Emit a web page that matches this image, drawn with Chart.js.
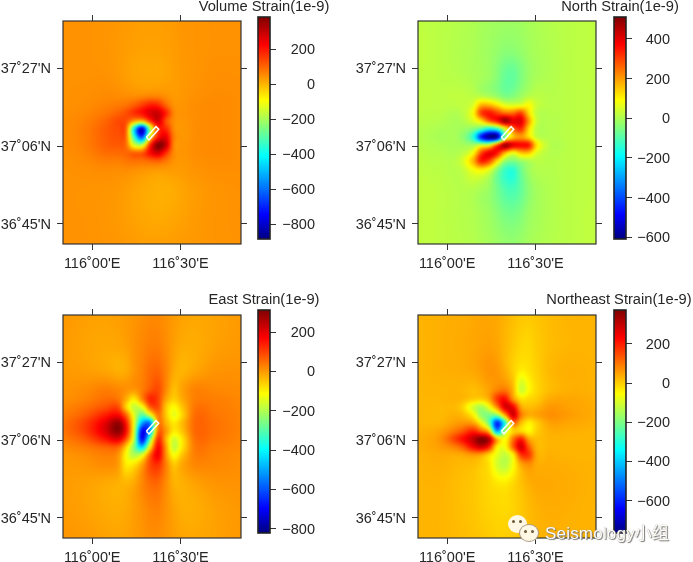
<!DOCTYPE html>
<html><head><meta charset="utf-8">
<style>
html,body{margin:0;padding:0;background:#fff;width:693px;height:562px;overflow:hidden}
canvas{position:absolute}
#wm{position:absolute;z-index:10;left:545px;top:519px;font:17px "Liberation Sans","Noto Sans CJK SC",sans-serif;color:#fffdf5;letter-spacing:.2px;text-shadow:1px 1px 1px #777,0 0 1px #888;white-space:nowrap}
.b{position:absolute;z-index:10;background:#fff8e4;border-radius:50%}
.e{position:absolute;z-index:11;background:#6b5a3a;border-radius:50%;width:3px;height:3px}
</style>
<script src="https://cdn.jsdelivr.net/npm/chart.js@4"></script>
</head><body>
<div class="b" style="left:508px;top:515px;width:19px;height:18px"></div>
<div class="e" style="left:512px;top:520px"></div><div class="e" style="left:519px;top:520px"></div>
<div class="b" style="left:520px;top:525px;width:18px;height:16px;box-shadow:0 0 0 1px #a98"></div>
<div class="e" style="left:524px;top:530px"></div><div class="e" style="left:531px;top:530px"></div>
<div id="wm">Seismology小组</div>
<script>
const lonTicks = [116, 116.5];
const lonLabels = ["116˚00'E", "116˚30'E"];
const latTicks = [37.45, 37.1, 36.75];
const latLabels = ["37˚27'N", "37˚06'N", "36˚45'N"];
const lonRange = [115.835, 116.843];
const latRange = [36.66, 37.663];
const lonNodes = [115.837,115.961,116.074,116.147,116.192,116.237,116.283,116.328,116.373,116.418,116.463,116.508,116.582,116.695,116.841];
const latNodes = [37.663,37.533,37.420,37.330,37.285,37.249,37.213,37.177,37.141,37.105,37.069,37.034,36.989,36.903,36.791,36.660];
const faultLon = [116.307,116.322,116.377,116.362,116.307];
const faultLat = [37.140,37.128,37.176,37.188,37.140];

const volumeStrain = [
[45,45,42,38,35,32,30,30,30,32,35,40,42,45,45],
[45,45,42,36,32,28,25,25,25,28,32,38,42,45,45],
[45,45,45,38,30,24,20,20,20,24,30,36,42,48,48],
[45,48,54,52,50,48,50,55,55,45,35,38,46,52,50],
[45,52,65,75,85,110,150,190,180,100,45,42,50,55,50],
[48,58,80,105,130,170,210,270,290,190,60,45,50,55,50],
[50,65,100,135,130,30,-10,160,280,130,50,40,50,55,50],
[50,70,110,130,100,-420,-800,-220,160,180,55,38,50,55,50],
[50,70,110,125,90,-340,-640,-80,200,250,70,40,50,55,50],
[50,68,105,115,90,-130,-170,180,385,300,60,42,50,55,50],
[48,62,90,95,100,110,120,220,280,170,55,42,50,55,50],
[46,55,70,70,80,85,85,100,110,80,45,38,46,52,50],
[45,48,52,50,50,45,40,35,32,32,32,34,42,48,48],
[45,44,42,38,32,25,18,14,10,10,14,22,32,42,46],
[45,44,40,35,30,25,20,16,14,16,20,25,34,42,46],
[45,45,42,40,36,34,30,30,30,30,32,34,38,42,45]];

const northStrain = [
[20,15,8,2,-5,-10,-12,-15,-15,-12,-5,0,8,15,20],
[22,15,5,0,-8,-15,-25,-35,-35,-25,-12,-3,5,15,20],
[20,15,8,0,-5,-15,-40,-75,-80,-50,-20,-5,5,15,20],
[20,18,20,15,5,-10,-30,-60,-50,-20,5,15,10,15,20],
[20,18,20,50,170,170,120,60,50,60,90,30,12,15,20],
[18,14,10,90,300,350,300,250,250,300,130,20,10,15,20],
[15,8,0,50,120,260,350,480,400,400,200,30,8,15,20],
[12,0,-10,-40,-100,-200,-150,60,250,320,130,15,8,15,20],
[10,-5,-20,-150,-450,-600,-570,-50,150,200,130,25,8,15,20],
[12,2,-5,-10,40,60,280,480,400,370,350,120,12,15,20],
[15,8,10,90,290,390,350,170,70,150,150,50,10,15,20],
[18,12,30,170,340,300,130,-20,-50,-20,5,15,10,15,20],
[20,15,15,70,90,50,-50,-130,-150,-70,-15,5,8,15,20],
[22,18,10,8,-5,-20,-60,-100,-110,-80,-35,-10,5,15,20],
[22,18,10,5,-5,-15,-35,-55,-60,-45,-20,-8,5,15,22],
[22,18,12,8,2,-5,-15,-22,-25,-18,-8,0,8,15,22]];

const eastStrain = [
[2,-5,-8,-5,0,5,12,18,18,10,0,-8,-15,-10,0],
[0,-10,-15,-12,-5,8,20,30,30,15,-5,-18,-20,-8,2],
[0,-5,-15,-25,-20,5,25,50,55,25,-15,-30,-15,5,8],
[5,15,30,20,10,5,30,70,90,20,-40,-10,25,20,15],
[10,25,50,40,-20,-90,20,130,100,-10,-60,-20,30,30,20],
[20,45,80,90,-60,-180,-130,60,90,-50,-110,-50,40,35,22],
[30,70,140,170,60,-140,-300,-150,40,-50,-140,-70,50,40,25],
[40,100,200,290,150,-130,-500,-550,10,-30,-90,-40,55,45,25],
[40,100,210,300,170,-150,-700,-500,40,0,-90,-50,55,45,25],
[30,70,150,200,80,-180,-700,-280,120,-30,-160,-90,45,40,22],
[15,35,60,60,-60,-250,-450,-100,170,0,-180,-90,35,30,20],
[5,15,30,10,-110,-200,-150,60,190,10,-120,-50,30,25,15],
[0,5,15,0,-90,-80,-10,90,120,30,-50,-15,20,20,12],
[-2,-8,-18,-25,-30,-15,20,50,55,15,-25,-25,-10,5,8],
[0,-8,-18,-22,-18,-5,10,25,28,10,-10,-22,-22,-8,2],
[5,0,-8,-12,-10,-3,5,12,12,5,-3,-12,-15,-8,2]];

const northeastStrain = [
[30,35,38,42,45,45,42,32,20,10,8,12,22,30,30],
[28,35,40,45,50,52,45,28,10,-5,-8,5,20,28,30],
[28,35,38,45,55,65,60,35,0,-30,-20,0,25,35,30],
[28,30,30,20,30,50,80,90,30,-110,-50,-10,20,35,32],
[28,28,30,5,0,40,170,220,70,-20,-10,5,40,45,35],
[28,25,10,-100,-150,-70,80,270,240,50,20,30,60,50,38],
[28,25,30,-40,-170,-200,-180,50,280,100,40,50,70,55,38],
[28,30,60,50,-50,-220,-600,-300,100,20,-40,0,50,45,35],
[32,50,120,190,120,10,-450,-150,-10,-10,-50,0,35,35,30],
[35,65,200,300,373,310,30,-60,100,200,50,20,30,30,28],
[35,55,110,230,280,200,-40,-60,120,280,130,30,30,30,28],
[33,40,40,60,50,-10,-80,-120,-40,170,170,40,35,30,28],
[32,35,25,20,5,-20,-100,-130,-60,40,70,40,38,35,30],
[30,30,18,10,0,-10,-25,-30,-10,15,35,42,42,38,30],
[30,28,18,10,2,-5,-10,-12,-5,8,22,32,38,35,30],
[30,28,22,15,10,5,0,0,5,12,22,28,32,32,30]];

const titles = ["Volume Strain(1e-9)","North Strain(1e-9)","East Strain(1e-9)","Northeast Strain(1e-9)"];
const volumeTicks = [200,0,-200,-400,-600,-800];
const northTicks = [400,200,0,-200,-400,-600];
const eastTicks = [200,0,-200,-400,-600,-800];
const northeastTicks = [200,0,-200,-400,-600];
const volumeRange = [-883,385];
const northRange = [-609,510];
const eastRange = [-822,313];
const northeastRange = [-765,373];

const FONT = '"Liberation Sans", sans-serif';
const INK = '#262626';
const FS = 14.5;
const stops = [[0,0,0,128],[.11,0,0,255],[.375,0,255,255],[.625,255,255,0],[.875,255,0,0],[1,128,0,0]];
function jet(t){
  t=Math.max(0,Math.min(1,t));
  for(let i=1;i<stops.length;i++){
    if(t<=stops[i][0]){
      const a=stops[i-1],b=stops[i],f=(t-a[0])/(b[0]-a[0]);
      return [a[1]+(b[1]-a[1])*f,a[2]+(b[2]-a[2])*f,a[3]+(b[3]-a[3])*f];
    }
  }
  return stops[5].slice(1);
}
/* Hermite weights so that the raster between the read-off nodes has no mesh creases */
function weights(arr,v){
  const n=arr.length;
  const desc=arr[0]>arr[n-1];
  let i=0;
  while(i<n-2 && (desc? v<arr[i+1] : v>arr[i+1])) i++;
  const h=arr[i+1]-arr[i];
  const t=Math.max(0,Math.min(1,(v-arr[i])/h));
  const t2=t*t,t3=t2*t;
  const h00=2*t3-3*t2+1,h10=t3-2*t2+t,h01=-2*t3+3*t2,h11=t3-t2;
  const w=new Map();
  const add=(k,x)=>w.set(k,(w.get(k)||0)+x);
  add(i,h00);add(i+1,h01);
  const tan=(k,c)=>{
    const a=Math.max(0,k-1),b=Math.min(n-1,k+1),d=arr[b]-arr[a];
    add(b,c*h/d);add(a,-c*h/d);
  };
  tan(i,h10);tan(i+1,h11);
  return [...w.entries()];
}
const heatPlugin={
  id:'heat',
  beforeDatasetsDraw(chart,args,opts){
    const a=chart.chartArea,xs=chart.scales.x,ys=chart.scales.y;
    const m=4,w=Math.round(a.right-a.left)+2*m,h=Math.round(a.bottom-a.top)+2*m;
    const off=document.createElement('canvas');off.width=w;off.height=h;
    const oc=off.getContext('2d'),img=oc.createImageData(w,h);
    const nodes=chart.data.datasets[0].data;
    const ncol=lonNodes.length;
    const wx=[];for(let px=0;px<w;px++)wx.push(weights(lonNodes,xs.getValueForPixel(a.left-m+px+.5)));
    let k=0;
    for(let py=0;py<h;py++){
      const wy=weights(latNodes,ys.getValueForPixel(a.top-m+py+.5));
      for(let px=0;px<w;px++){
        let v=0;
        for(const [r,fr] of wy)for(const [c,fc] of wx[px])v+=fr*fc*nodes[r*ncol+c].v;
        const rgb=jet((v-opts.range[0])/(opts.range[1]-opts.range[0]));
        img.data[k++]=rgb[0];img.data[k++]=rgb[1];img.data[k++]=rgb[2];img.data[k++]=255;
      }
    }
    oc.putImageData(img,0,0);
    const ctx=chart.ctx;ctx.save();
    ctx.beginPath();ctx.rect(a.left,a.top,a.right-a.left,a.bottom-a.top);ctx.clip();
    ctx.filter='blur(0.9px)';
    ctx.drawImage(off,a.left-m,a.top-m);
    ctx.restore();
  },
  afterDatasetsDraw(chart){
    const a=chart.chartArea,ctx=chart.ctx;
    ctx.save();ctx.strokeStyle='#333';ctx.lineWidth=1.2;
    ctx.strokeRect(a.left,a.top,a.right-a.left,a.bottom-a.top);ctx.restore();
  }
};
const framePlugin={
  id:'frame',
  afterDatasetsDraw(chart,args,opts){
    const a=chart.chartArea,ctx=chart.ctx;
    ctx.save();ctx.strokeStyle='#222';ctx.lineWidth=1.6;
    ctx.strokeRect(a.left,a.top,a.right-a.left,a.bottom-a.top);
    ctx.fillStyle=INK;ctx.font='14.7px '+FONT;ctx.textAlign='center';ctx.textBaseline='middle';
    ctx.fillText(opts.text,chart.width/2,8.5);
    ctx.restore();
  }
};
function placeCanvas(l,t,w,h){
  const c=document.createElement('canvas');
  c.width=w;c.height=h;c.style.left=l+'px';c.style.top=t+'px';c.style.width=w+'px';c.style.height=h+'px';
  document.body.appendChild(c);return c;
}
function fixSize(dim,val){return s=>{s[dim]=val;s.paddingLeft=s.paddingRight=s.paddingTop=s.paddingBottom=0;};}
function axis(common,pos,ticks,labels,size,isX){
  const showLabels=!!labels;
  return {
    type:'linear',position:pos,min:common[0],max:common[1],
    afterBuildTicks:s=>{s.ticks=ticks.map(v=>({value:v}));},
    afterFit:fixSize(isX?'height':'width',size),
    border:{display:false},
    grid:{display:true,drawOnChartArea:false,drawTicks:true,tickLength:6,tickColor:'#333',lineWidth:1},
    ticks:{display:showLabels,autoSkip:false,maxRotation:0,minRotation:0,padding:isX?5:6,labelOffset:isX?0:1,color:INK,font:{family:FONT,size:FS},
      callback:v=>{const i=ticks.findIndex(t=>Math.abs(t-v)<1e-6);return labels?labels[i]:'';}}
  };
}
function panel(L,T,R,B,ox,rows,range){
  const W=R+8-ox,H=(B-T)+7+32;
  const nodes=[];
  rows.forEach((row,r)=>row.forEach((v,c)=>nodes.push({x:lonNodes[c],y:latNodes[r],v})));
  new Chart(placeCanvas(ox,T-7,W,H),{
    type:'scatter',
    data:{datasets:[
      {data:nodes,pointRadius:0,pointHoverRadius:0,showLine:false},
      {data:faultLon.map((x,i)=>({x,y:faultLat[i]})),showLine:true,pointRadius:0,borderColor:'#fff',borderWidth:1.5,fill:false,tension:0}
    ]},
    options:{responsive:false,animation:false,
      layout:{padding:0},
      plugins:{legend:{display:false},tooltip:{enabled:false},heat:{range}},
      events:[],
      scales:{
        x:axis(lonRange,'bottom',lonTicks,lonLabels,32,true),
        x2:axis(lonRange,'top',lonTicks,null,7,true),
        y:axis(latRange,'left',latTicks,latLabels,L-ox,false),
        y2:axis(latRange,'right',latTicks,null,8,false)
      }},
    plugins:[heatPlugin]
  });
}
function colorbar(center,left,right,labelRight,top,bottom,range,ticks,title){
  const cw=148,cl=center-cw/2,TH=19,PB=14;
  new Chart(placeCanvas(cl,top-TH,cw,bottom-top+TH+PB),{
    type:'bar',
    data:{labels:[''],datasets:[{data:[[range[0],range[1]]],barPercentage:1,categoryPercentage:1,borderWidth:0,
      backgroundColor:ctx=>{
        const a=ctx.chart.chartArea;if(!a)return '#888';
        const g=ctx.chart.ctx.createLinearGradient(0,a.bottom,0,a.top);
        stops.forEach(s=>g.addColorStop(s[0],`rgb(${s[1]},${s[2]},${s[3]})`));
        return g;
      }}]},
    options:{responsive:false,animation:false,events:[],
      layout:{padding:{left:left-cl,bottom:PB,top:TH,right:cl+cw-labelRight}},
      plugins:{legend:{display:false},tooltip:{enabled:false},frame:{text:title}},
      scales:{
        x:{display:false},
        y:{type:'linear',position:'right',min:range[0],max:range[1],
          afterBuildTicks:s=>{s.ticks=ticks.map(v=>({value:v}));},
          afterFit:fixSize('width',labelRight-right),
          border:{display:false},
          grid:{drawOnChartArea:false,drawTicks:true,tickLength:6,tickColor:'#333'},
          ticks:{autoSkip:false,crossAlign:'far',padding:6,labelOffset:1,color:INK,font:{family:FONT,size:FS},
            callback:v=>v<0?'\u2212'+Math.abs(v):String(v)}}
      }},
    plugins:[framePlugin]
  });
}
panel(63,21,241,244,0,volumeStrain,volumeRange);
panel(418,21,596,244,350,northStrain,northRange);
panel(63,315,241,538,0,eastStrain,eastRange);
panel(418,315,596,538,350,northeastStrain,northeastRange);
colorbar(264,258,270,315,17,239,volumeRange,volumeTicks,titles[0]);
colorbar(620,614,626,670,17,239,northRange,northTicks,titles[1]);
colorbar(264,258,270,315,310,533,eastRange,eastTicks,titles[2]);
colorbar(619,614,626,670,310,533,northeastRange,northeastTicks,titles[3]);
</script>
</body></html>
